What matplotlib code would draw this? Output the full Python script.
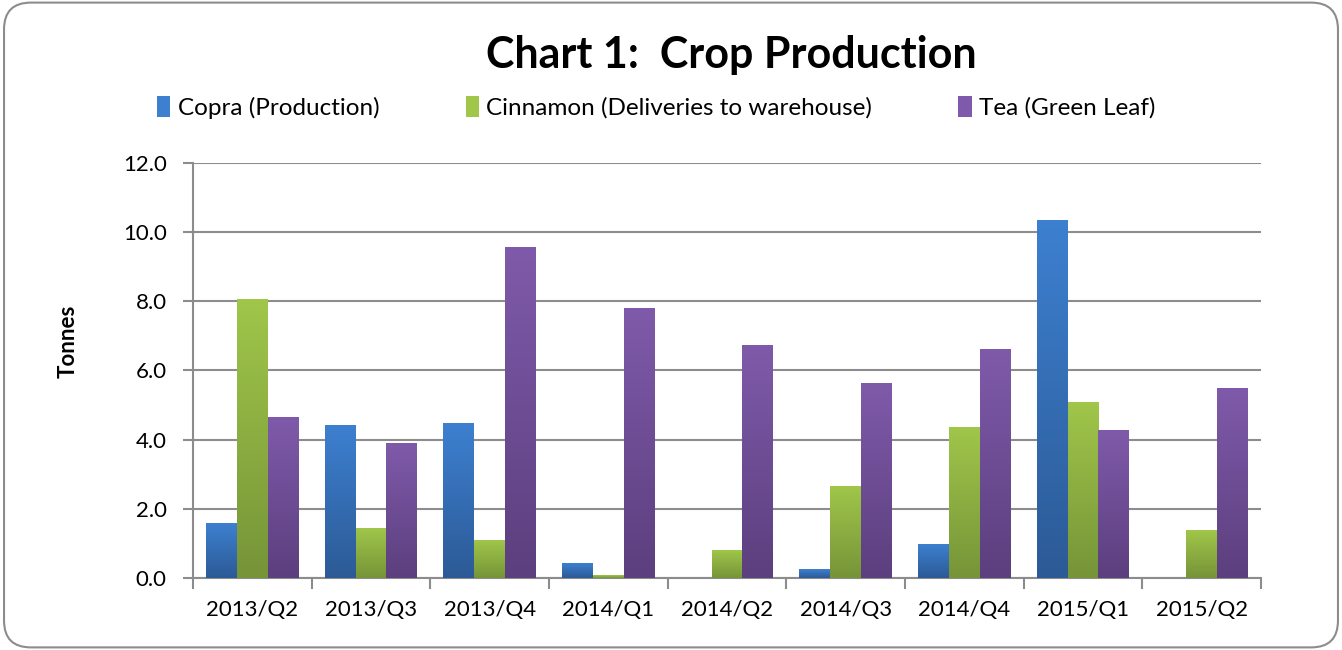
import numpy as np
import matplotlib.pyplot as plt
from matplotlib.colors import LinearSegmentedColormap
from matplotlib.patches import FancyBboxPatch, Patch

quarters = ['2013/Q2', '2013/Q3', '2013/Q4', '2014/Q1', '2014/Q2',
            '2014/Q3', '2014/Q4', '2015/Q1', '2015/Q2']
copra = [1.58, 4.41, 4.47, 0.42, 0.0, 0.25, 0.97, 10.34, 0.0]
cinnamon = [8.06, 1.44, 1.09, 0.08, 0.80, 2.65, 4.36, 5.08, 1.38]
tea = [4.65, 3.89, 9.56, 7.80, 6.73, 5.63, 6.61, 4.27, 5.48]

series = [
    ('Copra (Production)', copra, '#3d80d0', '#2c5a96'),
    ('Cinnamon (Deliveries to warehouse)', cinnamon, '#a0c64a', '#769438'),
    ('Tea (Green Leaf)', tea, '#7f5aaa', '#5c3f7e'),
]

plt.rcParams['font.family'] = ['Lato', 'DejaVu Sans']

fig = plt.figure(figsize=(13.42, 6.5), dpi=100)
fig.patches.append(FancyBboxPatch((0.003, 0.004), 0.994, 0.992,
                                  boxstyle='round,pad=0,rounding_size=0.02',
                                  transform=fig.transFigure, fc='white',
                                  ec='#8c8c8c', lw=1.5, zorder=-1,
                                  mutation_aspect=1342 / 650))

ax = fig.add_axes([0.1438, 0.1108, 0.7958, 0.6385])
x = np.arange(len(quarters))
w = 0.26
# top row of the image is the light colour, bottom row the dark one
grad = np.linspace(0, 1, 256).reshape(-1, 1)
handles = []
for i, (name, vals, top, bot) in enumerate(series):
    bars = ax.bar(x + (i - 1) * w, vals, w, color='none', zorder=3)
    cmap = LinearSegmentedColormap.from_list(name, [top, bot])
    for b in bars:
        if b.get_height() <= 0:
            continue
        ax.imshow(grad, cmap=cmap, aspect='auto', zorder=3, origin='upper',
                  extent=(b.get_x(), b.get_x() + b.get_width(), 0, b.get_height()))
    handles.append(Patch(facecolor=top, label=name))

ax.set_xlim(-0.5, len(quarters) - 0.5)
ax.set_ylim(0, 12)
ax.set_yticks(np.arange(0, 12.1, 2))
ax.set_yticklabels([f'{v:.1f}' for v in np.arange(0, 12.1, 2)])
ax.set_xticks(x)
ax.set_xticklabels(quarters)
ax.set_xticks(np.arange(-0.5, len(quarters), 1), minor=True)
ax.tick_params(axis='x', which='major', length=0, pad=16, labelsize=16)
ax.tick_params(axis='x', which='minor', length=8, color='#8c8c8c', width=1.5)
ax.tick_params(axis='y', length=7, color='#8c8c8c', width=1.5, labelsize=16, pad=12)
ax.grid(axis='y', color='#8c8c8c', lw=1.5, zorder=1)
for s in ['top', 'right']:
    ax.spines[s].set_visible(False)
for s in ['left', 'bottom']:
    ax.spines[s].set_color('#8c8c8c')
    ax.spines[s].set_linewidth(1.5)

fig.text(0.0507, 0.4746, 'Tonnes', rotation=90, ha='center', va='center',
         fontsize=16, fontweight='bold')
fig.text(0.545, 0.915, 'Chart 1:  Crop Production', ha='center', va='center',
         fontsize=31, fontweight='bold')
fig.legend(handles=handles, loc='center', bbox_to_anchor=(0.489, 0.835), ncol=3,
           frameon=False, fontsize=17.5, handlelength=0.55, handleheight=1.0,
           handletextpad=0.3, columnspacing=3.55)

fig.savefig('out.png', dpi=100)
